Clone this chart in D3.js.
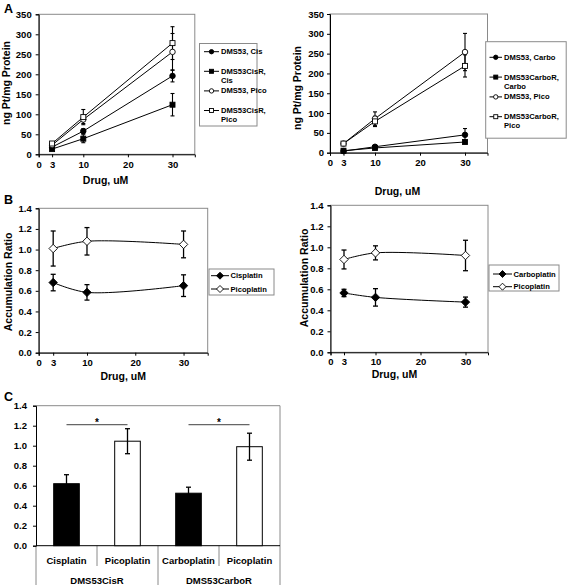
<!DOCTYPE html>
<html><head><meta charset="utf-8">
<script src="https://cdn.jsdelivr.net/npm/d3@7"></script>
<style>body{margin:0;background:#fff}svg{display:block;font-family:"Liberation Sans",Arial,sans-serif;font-weight:bold}</style>
</head><body><svg id="c" width="567" height="585"></svg>
<script>
// ---------- data ----------
const doses = [3, 10, 30];
const xTickVals = [0, 3, 10, 20, 30];
const aYTicks = [0, 50, 100, 150, 200, 250, 300, 350];
const bYTicks = [0, 0.2, 0.4, 0.6, 0.8, 1.0, 1.2, 1.4];

// Panel A, cisplatin-resistant line
const aCisLabels = [["DMS53, Cis"], ["DMS53CisR,", "Cis"], ["DMS53, Pico"], ["DMS53CisR,", "Pico"]];
const aCisMarkers = ["circleFilled", "squareFilled", "circleOpen", "squareOpen"];
const aCisValues = [[18, 58, 196], [13, 39, 124], [23, 87, 256], [27, 93, 278]];
const aCisErrors = [[3, 6, 15], [2, 10, 28], [4, 10, 46], [4, 19, 41]];

// Panel A, carboplatin-resistant line
const aCarboLabels = [["DMS53, Carbo"], ["DMS53CarboR,", "Carbo"], ["DMS53, Pico"], ["DMS53CarboR,", "Pico"]];
const aCarboMarkers = ["circleFilled", "squareFilled", "circleOpen", "squareOpen"];
const aCarboValues = [[4, 15, 45], [5, 12, 27], [23, 86, 254], [23, 79, 219]];
const aCarboErrors = [[1, 3, 16], [1, 2, 3], [3, 17, 47], [3, 13, 28]];

// Panel B
const bCisLabels = [["Cisplatin"], ["Picoplatin"]];
const bMarkers = ["diamondFilled", "diamondOpen"];
const bCisValues = [[0.68, 0.585, 0.65], [1.01, 1.08, 1.05]];
const bCisErrors = [[0.08, 0.075, 0.105], [0.17, 0.133, 0.13]];
const bCarboLabels = [["Carboplatin"], ["Picoplatin"]];
const bCarboValues = [[0.565, 0.523, 0.478], [0.884, 0.947, 0.922]];
const bCarboErrors = [[0.035, 0.083, 0.048], [0.09, 0.067, 0.145]];

// Panel C
const cCategories = ["Cisplatin", "Picoplatin", "Carboplatin", "Picoplatin"];
const cGroups = ["DMS53CisR", "DMS53CarboR"];
const cValues = [0.62, 1.045, 0.525, 0.99];
const cErrors = [0.09, 0.125, 0.06, 0.135];
const cFills = ["#000", "#fff", "#000", "#fff"];
const cSigLevel = 1.21;

// ---------- drawing ----------
const svg = d3.select("#c");
const FRAME = "#8a8a8a";

function drawMarker(g, type, cx, cy, s) {
  const filled = type.endsWith("Filled");
  const fill = filled ? "#000" : "#fff";
  if (type.startsWith("circle")) {
    g.append("circle").attr("cx", cx).attr("cy", cy).attr("r", s * 0.55)
      .attr("fill", fill).attr("stroke", "#000").attr("stroke-width", 0.9);
  } else if (type.startsWith("square")) {
    g.append("rect").attr("x", cx - s / 2).attr("y", cy - s / 2).attr("width", s).attr("height", s)
      .attr("fill", fill).attr("stroke", "#000").attr("stroke-width", 0.9);
  } else {
    const r = s * 0.7;
    g.append("path").attr("d", `M${cx},${cy - r}L${cx + r},${cy}L${cx},${cy + r}L${cx - r},${cy}Z`)
      .attr("fill", fill).attr("stroke", "#000").attr("stroke-width", 0.9);
  }
}

function linePanel(cfg) {
  const g = svg.append("g");
  const x = d3.scaleLinear().domain([0, 35]).range([cfg.left, cfg.right]);
  const y = d3.scaleLinear().domain([0, cfg.yMax]).range([cfg.bottom, cfg.top]);
  // frame
  g.append("rect").attr("x", cfg.left).attr("y", cfg.top).attr("width", cfg.right - cfg.left)
    .attr("height", cfg.bottom - cfg.top).attr("fill", "none").attr("stroke", FRAME).attr("stroke-width", 1);
  // axes
  const ya = d3.axisLeft(y).tickValues(cfg.yTicks).tickSize(3).tickPadding(cfg.yPad).tickFormat(cfg.yFmt);
  const yg = g.append("g").attr("transform", `translate(${cfg.left},0)`).call(ya);
  const xa = d3.axisBottom(x).tickValues(xTickVals).tickSize(3).tickPadding(cfg.xPad).tickFormat(d3.format("d"));
  const xg = g.append("g").attr("transform", `translate(0,${cfg.bottom})`).call(xa);
  [yg, xg].forEach(a => {
    a.select(".domain").attr("stroke", "#000");
    a.selectAll(".tick line").attr("stroke", "#000");
    a.selectAll("text").attr("font-size", 9.5).attr("font-family", "Liberation Sans, Arial").attr("font-weight", "bold").attr("fill", "#000");
  });
  // titles
  g.append("text").attr("transform", `translate(${cfg.yTitleX},${cfg.yTitleY}) rotate(-90)`)
    .attr("text-anchor", "middle").attr("dominant-baseline", "central").attr("font-size", 10.5).text(cfg.yTitle);
  g.append("text").attr("x", x(cfg.xTitleAt)).attr("y", cfg.xTitleY).attr("text-anchor", "middle")
    .attr("font-size", 10.5).text("Drug, uM");
  // error bars
  cfg.values.forEach((vals, si) => {
    vals.forEach((v, i) => {
      const e = cfg.errors[si][i], cx = x(doses[i]);
      const eg = g.append("g").attr("stroke", "#000").attr("stroke-width", cfg.ebw);
      eg.append("line").attr("x1", cx).attr("x2", cx).attr("y1", y(v - e)).attr("y2", y(v + e));
      [v - e, v + e].forEach(t => eg.append("line").attr("x1", cx - cfg.cap).attr("x2", cx + cfg.cap).attr("y1", y(t)).attr("y2", y(t)));
    });
  });
  // lines
  const line = d3.line().x((d, i) => x(doses[i])).y(d => y(d)).curve(cfg.curve);
  cfg.values.forEach(vals => {
    g.append("path").attr("d", line(vals)).attr("fill", "none").attr("stroke", "#000").attr("stroke-width", 1);
  });
  // markers
  cfg.values.forEach((vals, si) => {
    vals.forEach((v, i) => drawMarker(g, cfg.markers[si], x(doses[i]), y(v), cfg.ms));
  });
  // legend
  const L = cfg.legend;
  g.append("rect").attr("x", L.x).attr("y", L.y).attr("width", L.w).attr("height", L.h)
    .attr("fill", "#fff").attr("stroke", FRAME).attr("stroke-width", 1);
  cfg.labels.forEach((lines, si) => {
    const cy = L.firstY + si * L.step;
    g.append("line").attr("x1", L.symX1).attr("x2", L.symX2).attr("y1", cy).attr("y2", cy).attr("stroke", "#000").attr("stroke-width", 1);
    drawMarker(g, cfg.markers[si], (L.symX1 + L.symX2) / 2, cy, L.ms);
    lines.forEach((t, li) => {
      g.append("text").attr("x", L.textX).attr("y", cy + li * 9).attr("dominant-baseline", "central")
        .attr("font-size", 7.6).text(t);
    });
  });
}

// Panel A
linePanel({left: 38.7, right: 194.8, top: 14.3, bottom: 154.3, yMax: 350, yTicks: aYTicks, yFmt: d3.format("d"),
  yPad: 4, xPad: 4, values: aCisValues, errors: aCisErrors, markers: aCisMarkers, labels: aCisLabels,
  curve: d3.curveLinear, ebw: 1.1, cap: 2, ms: 5,
  yTitle: "ng Pt/mg Protein", yTitleX: 6, yTitleY: 83, xTitleAt: 15, xTitleY: 184,
  legend: {x: 199.5, y: 43.5, w: 57.5, h: 82.5, firstY: 51.7, step: 19.6, symX1: 204, symX2: 219, textX: 221, ms: 4}});
linePanel({left: 330, right: 487.5, top: 14, bottom: 152.7, yMax: 350, yTicks: aYTicks, yFmt: d3.format("d"),
  yPad: 3, xPad: 4, values: aCarboValues, errors: aCarboErrors, markers: aCarboMarkers, labels: aCarboLabels,
  curve: d3.curveLinear, ebw: 1.1, cap: 2, ms: 5,
  yTitle: "ng Pt/mg Protein", yTitleX: 297, yTitleY: 88, xTitleAt: 15, xTitleY: 195,
  legend: {x: 485.7, y: 41.7, w: 80.5, h: 96.5, firstY: 57.3, step: 19.8, symX1: 489.5, symX2: 502, textX: 504, ms: 4}});

// Panel B
linePanel({left: 38.7, right: 207.7, top: 208.3, bottom: 352.7, yMax: 1.4, yTicks: bYTicks, yFmt: d3.format(".1f"),
  yPad: 4, xPad: 4, values: bCisValues, errors: bCisErrors, markers: bMarkers, labels: bCisLabels,
  curve: d3.curveCatmullRom, ebw: 1.3, cap: 2.5, ms: 6,
  yTitle: "Accumulation Ratio", yTitleX: 8, yTitleY: 282, xTitleAt: 17.5, xTitleY: 380,
  legend: {x: 209, y: 269, w: 65, h: 26, firstY: 275.7, step: 13.3, symX1: 211, symX2: 229, textX: 230.5, ms: 5}});
linePanel({left: 330.5, right: 488, top: 205.3, bottom: 352.3, yMax: 1.4, yTicks: bYTicks, yFmt: d3.format(".1f"),
  yPad: 4, xPad: 3, values: bCarboValues, errors: bCarboErrors, markers: bMarkers, labels: bCarboLabels,
  curve: d3.curveCatmullRom, ebw: 1.3, cap: 2.5, ms: 6,
  yTitle: "Accumulation Ratio", yTitleX: 303.5, yTitleY: 278, xTitleAt: 14.2, xTitleY: 377.5,
  legend: {x: 489, y: 265, w: 70, h: 26, firstY: 274, step: 12.7, symX1: 493, symX2: 512, textX: 513.5, ms: 5}});

// Panel C
(function () {
  const g = svg.append("g");
  const left = 36, right = 280, top = 405.7, bottom = 545.7;
  const x = d3.scaleBand().domain(d3.range(cCategories.length)).range([left, right]).paddingInner(0.58).paddingOuter(0.29);
  const y = d3.scaleLinear().domain([0, 1.4]).range([bottom, top]);
  const step = x.step();
  // frame
  g.append("line").attr("x1", left).attr("x2", right).attr("y1", top).attr("y2", top).attr("stroke", FRAME);
  g.append("line").attr("x1", right).attr("x2", right).attr("y1", top).attr("y2", 585).attr("stroke", FRAME);
  g.append("line").attr("x1", left).attr("x2", left).attr("y1", bottom).attr("y2", 585).attr("stroke", FRAME);
  // dividers
  [1, 3].forEach(i => g.append("line").attr("x1", left + i * step).attr("x2", left + i * step)
    .attr("y1", bottom).attr("y2", 566).attr("stroke", FRAME));
  g.append("line").attr("x1", left + 2 * step).attr("x2", left + 2 * step).attr("y1", bottom).attr("y2", 585).attr("stroke", FRAME);
  // y axis
  const yg = g.append("g").attr("transform", `translate(${left},0)`)
    .call(d3.axisLeft(y).tickValues(bYTicks).tickSize(3).tickPadding(6).tickFormat(d3.format(".1f")));
  yg.select(".domain").attr("stroke", "#000");
  yg.selectAll(".tick line").attr("stroke", "#000");
  yg.selectAll("text").attr("font-size", 9.5).attr("font-family", "Liberation Sans, Arial").attr("font-weight", "bold").attr("fill", "#000");
  g.append("line").attr("x1", left).attr("x2", right).attr("y1", bottom).attr("y2", bottom).attr("stroke", "#000");
  // bars
  cValues.forEach((v, i) => {
    g.append("rect").attr("x", x(i)).attr("y", y(v)).attr("width", x.bandwidth()).attr("height", y(0) - y(v))
      .attr("fill", cFills[i]).attr("stroke", "#000").attr("stroke-width", 1);
  });
  // error bars
  cValues.forEach((v, i) => {
    const cx = x(i) + x.bandwidth() / 2, e = cErrors[i];
    const eg = g.append("g").attr("stroke", "#000").attr("stroke-width", 1.3);
    eg.append("line").attr("x1", cx).attr("x2", cx).attr("y1", y(v - e)).attr("y2", y(v + e));
    [v - e, v + e].forEach(t => eg.append("line").attr("x1", cx - 2.5).attr("x2", cx + 2.5).attr("y1", y(t)).attr("y2", y(t)));
  });
  // significance
  [[0, 1], [2, 3]].forEach(([a, b]) => {
    const xa = x(a) + x.bandwidth() / 2, xb = x(b) + x.bandwidth() / 2;
    g.append("line").attr("x1", xa).attr("x2", xb).attr("y1", y(cSigLevel)).attr("y2", y(cSigLevel)).attr("stroke", "#666").attr("stroke-width", 1.2);
    g.append("text").attr("x", (xa + xb) / 2).attr("y", y(cSigLevel) + 1.5).attr("text-anchor", "middle").attr("font-size", 10).text("*");
  });
  // category labels
  cCategories.forEach((c, i) => g.append("text").attr("x", x(i) + x.bandwidth() / 2).attr("y", 563.5)
    .attr("text-anchor", "middle").attr("font-size", 9.5).text(c));
  cGroups.forEach((c, i) => g.append("text").attr("x", left + (2 * i + 1) * step).attr("y", 584)
    .attr("text-anchor", "middle").attr("font-size", 9.5).text(c));
})();

// panel letters
[["A", 4, 13], ["B", 4, 204], ["C", 4, 401]].forEach(([t, px, py]) =>
  svg.append("text").attr("x", px).attr("y", py).attr("font-size", 12.5).text(t));
</script></body></html>
